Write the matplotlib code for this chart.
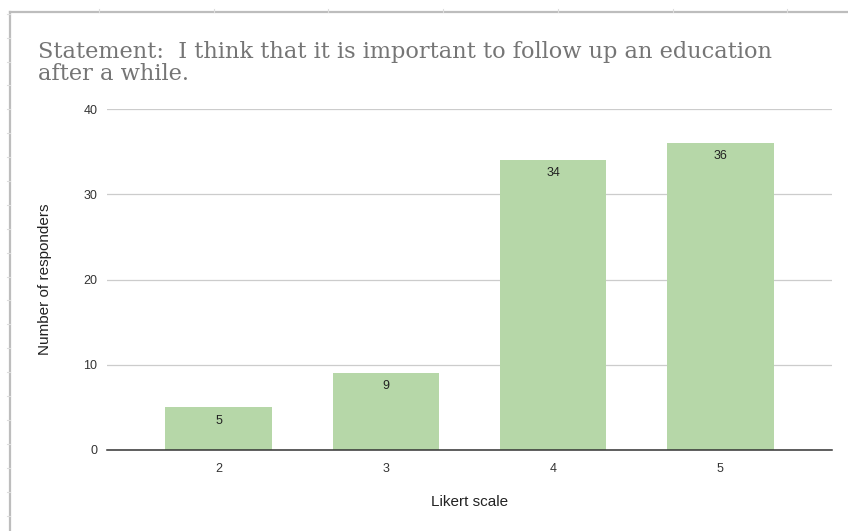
import numpy as np
import matplotlib.pyplot as plt
from matplotlib.lines import Line2D

# Likert answers and how many people picked each one
likert = ["2", "3", "4", "5"]
responders = [5, 9, 34, 36]

title_lines = ["Statement:  I think that it is important to follow up an education",
               "after a while."]

plt.rcParams["font.family"] = ["Liberation Sans", "DejaVu Sans"]

W, H = 848, 531
fig = plt.figure(figsize=(W / 100, H / 100), dpi=100)


def fx(px):
    return px / W


def fy(py):
    return 1 - py / H


# sheet frame around the chart (cell borders)
frame = "#bdbdbd"
fig.add_artist(Line2D([fx(10), fx(10)], [fy(12), 0], color=frame, lw=1.6))
fig.add_artist(Line2D([fx(10), 1], [fy(12), fy(12)], color=frame, lw=1.6))
for cx in np.arange(99, W, 114.7):
    fig.add_artist(Line2D([fx(cx), fx(cx)], [fy(9), fy(12)], color="#dddddd", lw=0.8))
for ry in np.arange(13.7, H, 23.9):
    fig.add_artist(Line2D([fx(7), fx(10)], [fy(ry), fy(ry)], color="#dddddd", lw=0.8))

# two-line title, baselines 22 px apart
for i, line in enumerate(title_lines):
    fig.text(fx(38), fy(58 + 22 * i), line, family=["DejaVu Serif"],
             fontsize=16.2, color="#757575", ha="left", va="baseline")

ax = fig.add_axes([fx(107), fy(450), fx(832) - fx(107), fy(109) - fy(450)])

x = np.arange(len(likert))
bars = ax.bar(x, responders, width=0.64, color="#b6d7a8", zorder=3)

for bar, val in zip(bars, responders):
    ax.annotate(str(val), (bar.get_x() + bar.get_width() / 2, val),
                xytext=(0, -9.5), textcoords="offset points",
                ha="center", va="center", fontsize=9, color="#222222", zorder=4)

ax.set_xlim(-0.67, len(likert) - 1 + 0.67)
ax.set_ylim(0, 40)
ax.set_yticks([0, 10, 20, 30, 40])
ax.set_xticks(x)
ax.set_xticklabels(likert)

ax.grid(axis="y", color="#cccccc", lw=0.9, zorder=0)
ax.axhline(0, color="#333333", lw=1.1, zorder=5, clip_on=False)
for s in ax.spines.values():
    s.set_visible(False)
ax.tick_params(length=0, labelsize=9, colors="#333333")
ax.tick_params(axis="y", pad=7)
ax.tick_params(axis="x", pad=9)

ax.set_ylabel("Number of responders", fontsize=11, color="#222222", va="center")
ax.set_xlabel("Likert scale", fontsize=11, color="#222222", va="center")
ax.yaxis.set_label_coords((45 - 107) / 725, 0.5)
ax.xaxis.set_label_coords(0.5, (450 - 502) / 341)

fig.savefig("out.png", dpi=100)
